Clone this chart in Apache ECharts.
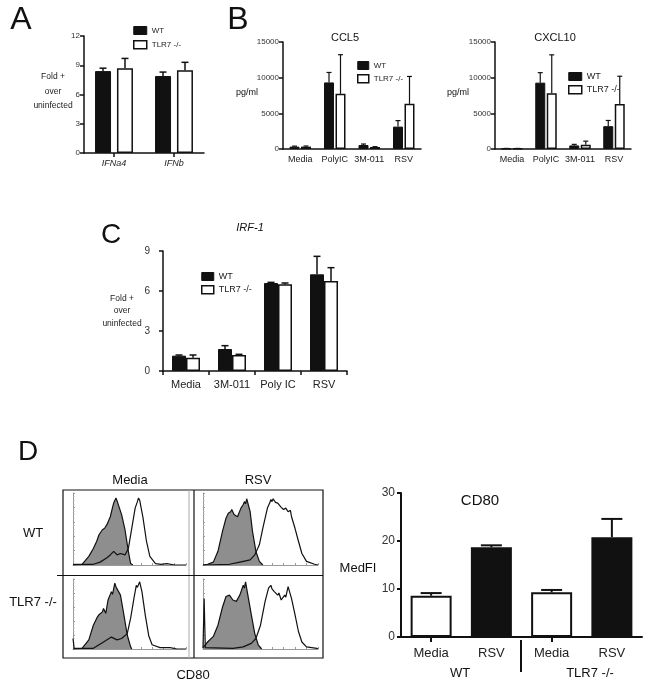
<!DOCTYPE html>
<html><head><meta charset="utf-8">
<script src="https://cdn.jsdelivr.net/npm/echarts@6/dist/echarts.min.js"></script>
<style>html,body{margin:0;padding:0;background:#fff}#c{width:652px;height:689px}</style>
</head><body><div id="c"></div>
<script>
// ---------- DATA ----------
const catA = ['IFNa4', 'IFNb'];
const aWT = [8.4, 7.9];
const aWTtop = [8.7, 8.3];
const aKO = [8.7, 8.5];
const aKOtop = [9.7, 9.3];

const catB = ['Media', 'PolyIC', '3M-011', 'RSV'];
const ccl5WT = [330, 9330, 560, 3140];
const ccl5WTtop = [400, 10730, 700, 3980];
const ccl5KO = [330, 7730, 280, 6330];
const ccl5KOtop = [420, 13220, 330, 10170];
const cxcl10WT = [60, 9300, 500, 3200];
const cxcl10WTtop = [80, 10700, 650, 4000];
const cxcl10KO = [60, 7800, 600, 6300];
const cxcl10KOtop = [80, 13200, 1100, 10200];

const catC = ['Media', '3M-011', 'Poly IC', 'RSV'];
const irfWT = [1.15, 1.65, 6.6, 7.25];
const irfWTtop = [1.2, 1.9, 6.65, 8.6];
const irfKO = [1.0, 1.2, 6.5, 6.75];
const irfKOtop = [1.2, 1.25, 6.6, 7.75];

const catD = ['Media', 'RSV', 'Media', 'RSV'];
const cd80 = [8.6, 18.7, 9.3, 20.8];
const cd80top = [9.15, 19.1, 9.8, 24.6];

// flow histograms: [CD80 intensity (0-100), % of max]
const wtMediaIso = [[0,0],[8,1],[14,12],[18,23],[21,33],[23,42],[26,49],[28,51],[30,56],[33,67],[35,80],[36,86],[37,84],[38,93],[39,89],[40,88],[43,70],[46,49],[49,19],[51,2],[53,0]];
const wtMediaCD80 = [[0,1],[18,1],[24,4],[30,10],[33,14],[36,19],[39,14],[42,16],[46,14],[49,23],[52,51],[55,79],[57,88],[58,93],[59,90],[62,65],[65,33],[68,12],[73,2],[78,1],[83,2],[90,0],[100,0]];
const wtRsvIso = [[0,0],[4,1],[9,4],[13,19],[17,47],[20,65],[22,72],[24,74],[25,77],[27,70],[28,72],[30,67],[33,79],[35,84],[36,88],[37,85],[38,92],[41,74],[43,47],[46,19],[49,5],[52,0]];
const wtRsvCD80 = [[0,0],[23,1],[32,4],[41,7],[45,14],[49,28],[52,51],[56,79],[58,86],[59,91],[60,88],[61,92],[62,91],[63,87],[65,86],[68,80],[70,77],[72,79],[74,74],[76,76],[77,67],[80,51],[83,33],[86,16],[90,5],[97,1],[100,0]];
const koMediaIso = [[0,0],[8,1],[14,13],[18,34],[21,44],[23,49],[26,53],[27,58],[29,51],[31,70],[34,82],[35,78],[37,94],[38,89],[39,91],[42,77],[45,49],[48,20],[51,3],[52,0]];
const koMediaCD80 = [[0,15],[1,1],[18,1],[27,10],[34,17],[39,13],[43,15],[48,22],[51,44],[54,73],[56,91],[57,88],[59,96],[61,82],[64,48],[67,19],[70,6],[77,2],[86,2],[92,0],[100,0]];
const koRsvIso = [[0,2],[4,10],[9,18],[13,34],[17,60],[20,75],[23,77],[26,70],[29,68],[32,77],[35,91],[36,87],[37,96],[39,77],[42,49],[45,22],[48,6],[51,0]];
const koRsvCD80 = [[0,1],[1,72],[2,2],[26,1],[35,3],[42,8],[46,15],[50,34],[54,68],[57,87],[59,91],[60,86],[62,82],[65,77],[66,80],[68,70],[71,77],[72,74],[74,89],[77,72],[80,49],[83,25],[86,10],[90,3],[99,1],[100,0]];

// ---------- STYLE HELPERS ----------
const FF = '"Liberation Sans", Arial, sans-serif';
const INK = '#111';
const chart = echarts.init(document.getElementById('c'), null, {renderer: 'canvas'});

function valY(idx, max, interval, fs, margin, lw) {
  return {type: 'value', gridIndex: idx, min: 0, max: max, interval: interval,
    axisLine: {show: true, lineStyle: {color: INK, width: lw || 1.5}},
    axisTick: {show: true, length: 4, lineStyle: {color: INK, width: lw || 1.5}},
    axisLabel: {fontFamily: FF, fontSize: fs, color: '#333', margin: margin, formatter: function (v) { return String(v); }},
    splitLine: {show: false}};
}
function catX(idx, data, fs, margin, tick, opts) {
  return Object.assign({type: 'category', gridIndex: idx, data: data,
    axisLine: {show: true, lineStyle: {color: INK, width: 1.5}},
    axisTick: tick,
    axisLabel: {fontFamily: FF, fontSize: fs, color: '#222', margin: margin, interval: 0},
    splitLine: {show: false}}, opts || {});
}
function bars(idx, name, vals, white, width, gap) {
  return {type: 'bar', name: name, xAxisIndex: idx, yAxisIndex: idx, data: vals,
    barWidth: width, barGap: gap, silent: true,
    itemStyle: white ? {color: '#fff', borderColor: INK, borderWidth: 1.5} : {color: INK, borderColor: INK, borderWidth: 1}};
}
function errs(idx, vals, tops, off, cap, lw) {
  return {type: 'custom', xAxisIndex: idx, yAxisIndex: idx, silent: true, z: 3,
    data: vals.map((v, i) => [i, v, tops[i]]),
    renderItem: function (params, api) {
      const b = api.coord([api.value(0), api.value(1)]);
      const t = api.coord([api.value(0), api.value(2)]);
      const x = b[0] + off;
      const st = {stroke: INK, lineWidth: lw};
      return {type: 'group', children: [
        {type: 'line', shape: {x1: x, y1: b[1], x2: x, y2: t[1]}, style: st},
        {type: 'line', shape: {x1: x - cap / 2, y1: t[1], x2: x + cap / 2, y2: t[1]}, style: st}
      ]};
    }};
}
function histAxisX(idx) {
  return {type: 'value', gridIndex: idx, min: 0, max: 100, interval: 10,
    axisLine: {show: true, onZero: false, lineStyle: {color: '#9a9a9a', width: 1}},
    axisTick: {show: true, inside: true, length: 2, lineStyle: {color: '#9a9a9a'}},
    axisLabel: {show: false}, splitLine: {show: false}};
}
function histAxisY(idx) {
  return {type: 'value', gridIndex: idx, min: 0, max: 100, interval: 20,
    axisLine: {show: true, lineStyle: {color: '#9a9a9a', width: 1}},
    axisTick: {show: true, inside: true, length: 2, lineStyle: {color: '#9a9a9a'}},
    minorTick: {show: true, splitNumber: 4, length: 1.5, lineStyle: {color: '#b0b0b0'}},
    axisLabel: {show: false}, splitLine: {show: false}};
}
function hist(idx, pts, filled) {
  const s = {type: 'line', xAxisIndex: idx, yAxisIndex: idx, data: pts, showSymbol: false, silent: true,
    lineStyle: {color: INK, width: 1.2}, z: filled ? 2 : 3, animation: false};
  if (filled) s.areaStyle = {color: '#8e8e8e', opacity: 1};
  return s;
}
function legendAt(left, top, w, h, gap, fs) {
  return {left: left, top: top, orient: 'vertical', itemWidth: w, itemHeight: h, itemGap: gap,
    selectedMode: false, icon: 'rect',
    textStyle: {fontFamily: FF, fontSize: fs, color: '#222'},
    data: [{name: 'WT', itemStyle: {color: INK, borderColor: INK, borderWidth: 1}},
           {name: 'TLR7 -/-', itemStyle: {color: '#fff', borderColor: INK, borderWidth: 1.5}}]};
}
function txt(x, y, s, fs, opt) {
  opt = opt || {};
  return {type: 'text', x: x, y: y, silent: true, z: 10,
    style: {text: s, fill: opt.fill || INK, font: (opt.italic ? 'italic ' : '') + fs + 'px ' + FF,
      textAlign: opt.align || 'center', textVerticalAlign: 'middle', lineHeight: opt.lh}};
}
function ln(x1, y1, x2, y2, c, w) {
  return {type: 'line', silent: true, z: 1, shape: {x1: x1, y1: y1, x2: x2, y2: y2}, style: {stroke: c, lineWidth: w}};
}

// ---------- OPTION ----------
const grids = [
  {left: 84, top: 36, width: 120, height: 117},   // 0 A
  {left: 283, top: 42, width: 138, height: 107},  // 1 CCL5
  {left: 495, top: 42, width: 136, height: 107},  // 2 CXCL10
  {left: 163, top: 251, width: 184, height: 120}, // 3 C
  {left: 73, top: 493, width: 113, height: 72},   // 4 hist WT Media
  {left: 203, top: 493, width: 115, height: 72},  // 5 hist WT RSV
  {left: 73, top: 579, width: 113, height: 70},   // 6 hist KO Media
  {left: 203, top: 579, width: 115, height: 70},  // 7 hist KO RSV
  {left: 401, top: 493, width: 241, height: 144}  // 8 D bars
];

const option = {
  animation: false,
  backgroundColor: '#fff',
  grid: grids.map(g => Object.assign({containLabel: false}, g)),
  legend: [legendAt(128, 21, 13, 8, 5, 8), legendAt(352, 56, 11, 8, 4, 8), legendAt(563, 67, 13, 8, 4, 9), legendAt(196, 267, 12, 8, 4, 9)],
  xAxis: [
    catX(0, catA, 9, 6, {show: true, alignWithLabel: true, length: 4, lineStyle: {color: INK, width: 1.5}}, {axisLabel: {fontFamily: FF, fontSize: 9, fontStyle: 'italic', color: '#222', margin: 6, interval: 0}}),
    catX(1, catB, 9, 6, {show: false}),
    catX(2, catB, 9, 6, {show: false}),
    catX(3, catC, 11, 8, {show: true, length: 4, lineStyle: {color: INK, width: 1.5}}),
    histAxisX(4), histAxisX(5), histAxisX(6), histAxisX(7),
    catX(8, catD, 13, 10, {show: true, alignWithLabel: true, length: 5, interval: function (i) { return i % 2 === 0; }, lineStyle: {color: INK, width: 2}},
      {axisLine: {show: true, lineStyle: {color: INK, width: 2}}})
  ],
  yAxis: [
    valY(0, 12, 3, 8, 4),
    valY(1, 15000, 5000, 8, 4),
    valY(2, 15000, 5000, 8, 4),
    valY(3, 9, 3, 10, 13),
    histAxisY(4), histAxisY(5), histAxisY(6), histAxisY(7),
    valY(8, 30, 10, 12, 6, 2)
  ],
  series: [
    bars(0, 'WT', aWT, false, 16, '37%'), bars(0, 'TLR7 -/-', aKO, true, 16, '37%'),
    errs(0, aWT, aWTtop, -11, 7, 1.5), errs(0, aKO, aKOtop, 11, 7, 1.5),

    bars(1, 'WT', ccl5WT, false, 10, '15%'), bars(1, 'TLR7 -/-', ccl5KO, true, 10, '15%'),
    errs(1, ccl5WT, ccl5WTtop, -5.75, 5, 1.2), errs(1, ccl5KO, ccl5KOtop, 5.75, 5, 1.2),

    bars(2, 'WT', cxcl10WT, false, 10, '15%'), bars(2, 'TLR7 -/-', cxcl10KO, true, 10, '15%'),
    errs(2, cxcl10WT, cxcl10WTtop, -5.75, 5, 1.2), errs(2, cxcl10KO, cxcl10KOtop, 5.75, 5, 1.2),

    bars(3, 'WT', irfWT, false, 14, '0%'), bars(3, 'TLR7 -/-', irfKO, true, 14, '0%'),
    errs(3, irfWT, irfWTtop, -7, 7, 1.5), errs(3, irfKO, irfKOtop, 7, 7, 1.5),

    hist(4, wtMediaIso, true), hist(4, wtMediaCD80, false),
    hist(5, wtRsvIso, true), hist(5, wtRsvCD80, false),
    hist(6, koMediaIso, true), hist(6, koMediaCD80, false),
    hist(7, koRsvIso, true), hist(7, koRsvCD80, false),

    {type: 'bar', name: 'CD80', xAxisIndex: 8, yAxisIndex: 8, data: cd80, barWidth: 41, silent: true,
      itemStyle: {color: function (p) { return p.dataIndex % 2 === 0 ? '#fff' : INK; }, borderColor: INK, borderWidth: 2}},
    errs(8, cd80, cd80top, 0, 21, 2)
  ],
  graphic: [
    txt(21, 20, 'A', 32), txt(238, 20, 'B', 32), txt(111, 235, 'C', 28), txt(28, 452, 'D', 28),
    txt(53, 91.5, 'Fold +\nover\nuninfected', 8.5, {lh: 14.5, fill: '#222'}),
    txt(345, 38, 'CCL5', 11), txt(555, 38, 'CXCL10', 11),
    txt(247, 93, 'pg/ml', 9), txt(458, 93, 'pg/ml', 9),
    txt(250, 228, 'IRF-1', 11, {italic: true}),
    txt(122, 311, 'Fold +\nover\nuninfected', 8.5, {lh: 12.5, fill: '#222'}),
    // panel D histogram frame
    {type: 'rect', silent: true, z: 1, shape: {x: 63, y: 490, width: 260, height: 168}, style: {fill: 'none', stroke: INK, lineWidth: 1.2}},
    ln(194, 490, 194, 658, INK, 1.2), ln(189, 490, 189, 658, '#aaa', 1), ln(57, 575.5, 323, 575.5, INK, 1.2),
    txt(130, 480, 'Media', 13), txt(258, 480, 'RSV', 13),
    txt(33, 533, 'WT', 13), txt(33, 602, 'TLR7 -/-', 13), txt(193, 675, 'CD80', 13),
    // panel D bar chart text
    txt(480, 501, 'CD80', 15), txt(358, 568, 'MedFI', 13),
    txt(460, 673, 'WT', 13), txt(590, 673, 'TLR7 -/-', 13),
    ln(521, 640, 521, 672, INK, 2)
  ]
};
chart.setOption(option);
</script></body></html>
